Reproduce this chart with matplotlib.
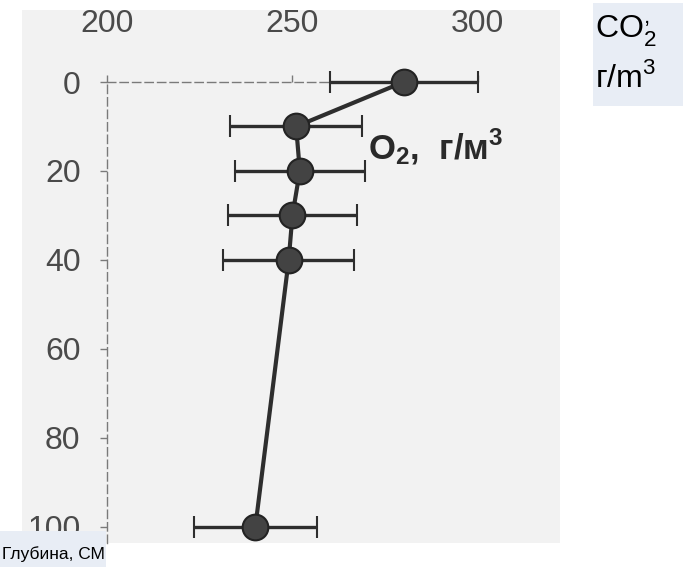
import matplotlib
matplotlib.use("Agg")
import matplotlib.pyplot as plt
from matplotlib.patches import Rectangle

# O2 profile
depth = [0, 10, 20, 30, 40, 100]
o2 = [280, 251, 252, 250, 249, 240]
o2_err = [20, 17.7, 17.5, 17.5, 17.6, 16.6]

x_ticks = [200, 250, 300]
y_ticks = [0, 20, 40, 60, 80, 100]

plt.rcParams['font.family'] = ['Liberation Sans', 'DejaVu Sans']
plt.rcParams['mathtext.fontset'] = 'custom'
plt.rcParams['mathtext.rm'] = 'Liberation Sans'
plt.rcParams['mathtext.bf'] = 'Liberation Sans:bold'

W, H = 688, 567
fig = plt.figure(figsize=(W / 100, H / 100), dpi=100)
fig.patch.set_facecolor('white')

# scanned page background
fig.add_artist(Rectangle((22 / W, 1 - 543 / H), (560 - 22) / W, (543 - 10) / H,
                         transform=fig.transFigure, facecolor='#f2f2f2',
                         edgecolor='none', zorder=-1))

ax = fig.add_axes([107 / W, 1 - 543 / H, 445 / W, 461 / H])
ax.set_facecolor('none')
ax.set_xlim(200, 320)
ax.set_ylim(103.6, 0)

ink = '#2e2e2e'
ax.errorbar(o2, depth, xerr=o2_err, fmt='-o', color=ink, lw=3,
            ms=18.5, mfc='#434343', mec='#232323', mew=1.5,
            elinewidth=2.4, capsize=8, capthick=2.4, clip_on=False, zorder=3)

ax.text(270.5, 14.6, r'$\mathbf{O_2}$,  г/м$^\mathbf{3}$', fontsize=25,
        fontweight='bold', color='#2a2a2a', va='center', ha='left')

# axis styling like the scan: only top and left, thin dashed grey
for side in ['right', 'bottom']:
    ax.spines[side].set_visible(False)
for side in ['top', 'left']:
    ax.spines[side].set_color('#7a7a7a')
    ax.spines[side].set_linewidth(1.0)
    ax.spines[side].set_linestyle((0, (6, 3)))
ax.spines['top'].set_bounds(200, 300)

ax.xaxis.tick_top()
ax.set_xticks(x_ticks)
ax.set_yticks(y_ticks)
ax.tick_params(axis='x', direction='out', length=5, width=1, color='#7a7a7a',
               pad=26, labelsize=23, labelcolor='#4a4a4a')
ax.tick_params(axis='y', direction='out', length=5, width=1, color='#7a7a7a',
               pad=14, labelsize=23, labelcolor='#4a4a4a')

# pasted caption boxes
box = '#e8edf5'
fig.add_artist(Rectangle((593 / W, 1 - 106 / H), 90 / W, 103 / H,
                         transform=fig.transFigure, facecolor=box,
                         edgecolor='none', zorder=5))
fig.text(595 / W, 1 - 37 / H, r'CO$_2^{,}$', fontsize=23, color='black',
         ha='left', va='baseline', zorder=6)
fig.text(595 / W, 1 - 87 / H, r'г/m$^3$', fontsize=23, color='black',
         ha='left', va='baseline', zorder=6)

fig.add_artist(Rectangle((0, 0), 106 / W, (567 - 531) / H,
                         transform=fig.transFigure, facecolor=box,
                         edgecolor='none', zorder=5))
fig.text(2 / W, 1 - 559 / H, 'Глубина, СМ', fontsize=12.5, color='black',
         ha='left', va='baseline', zorder=6)

fig.savefig('out.png', dpi=100)
